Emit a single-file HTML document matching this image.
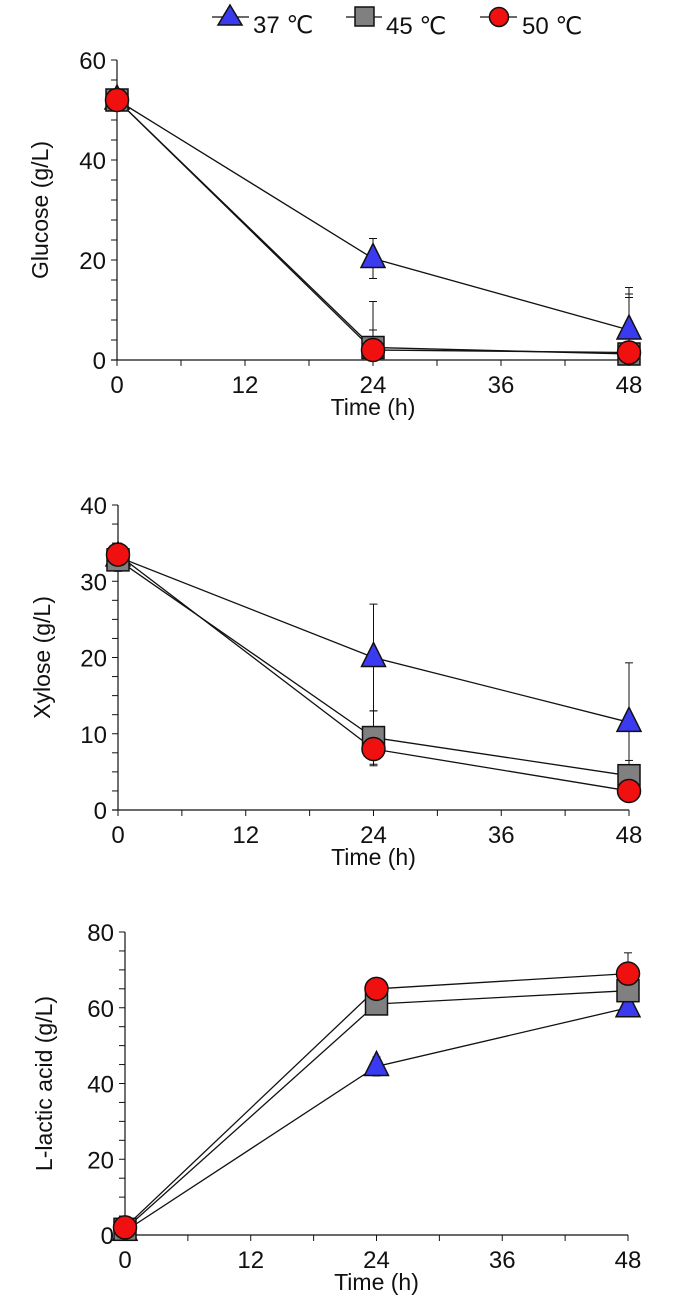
<!DOCTYPE html>
<html><head><meta charset="utf-8"><style>
body{margin:0;background:#fff;}
svg text{font-family:"Liberation Sans",sans-serif;fill:#111;}
svg text.n{font-family:"Liberation Sans Narrow","Liberation Sans",sans-serif;}
</style></head><body>
<svg id="c" width="685" height="1310" viewBox="0 0 685 1310" xmlns="http://www.w3.org/2000/svg">
<g>
 <g><line x1="212" y1="17" x2="249" y2="17" stroke="#111" stroke-width="1.3"/><polygon points="230,5 242,25 218,25" fill="#3a3af0" stroke="#111" stroke-width="1.5"/><text class="n" x="253" y="33" font-size="24">37 ℃</text></g>
 <g><line x1="346" y1="17" x2="382" y2="17" stroke="#111" stroke-width="1.3"/><rect x="355" y="7" width="19" height="19" fill="#808080" stroke="#111" stroke-width="1.5"/><text class="n" x="386" y="34" font-size="24">45 ℃</text></g>
 <g><line x1="480" y1="17" x2="517" y2="17" stroke="#111" stroke-width="1.3"/><circle cx="499" cy="17" r="9.5" fill="#f01010" stroke="#111" stroke-width="1.5"/><text class="n" x="522" y="34" font-size="24">50 ℃</text></g>
</g>
</svg>
<script>
const times=[0,24,48];
const xTicks=[0,12,24,36,48];
const gluc37=[52,20.3,6], gluc45=[52,2.5,1.2], gluc50=[52,2,1.5];
const gluc37e=[1,4,8.5], gluc45e=[1,9.2,12], gluc50e=[1,4,11];
const xyl37=[33.2,20,11.5], xyl45=[32.8,9.5,4.5], xyl50=[33.5,8,2.5];
const xyl37e=[1.5,7,7.8], xyl45e=[1.5,3.5,2], xyl50e=[1.5,2.2,1];
const lac37=[1,44.5,60], lac45=[1.5,61,64.5], lac50=[2,65,69];
const lac37e=[1,2.5,2], lac45e=[1,1.5,1.5], lac50e=[1,1,5.5];
const gTicks=[0,20,40,60], xyTicks=[0,10,20,30,40], lTicks=[0,20,40,60,80];

const svg=document.getElementById('c');
const NS='http://www.w3.org/2000/svg';
function mk(tag,attrs,parent){const e=document.createElementNS(NS,tag);for(const k in attrs)e.setAttribute(k,attrs[k]);parent.appendChild(e);return e;}

const panels=[
 {name:'glucose',title:'Glucose (g/L)',x0:117,x1:629,y0:360,y1:60,ymax:60,minor:4,ticks:gTicks,titleX:40,ser:[[gluc37,gluc37e],[gluc45,gluc45e],[gluc50,gluc50e]]},
 {name:'xylose',title:'Xylose (g/L)',x0:118,x1:629,y0:810,y1:505,ymax:40,minor:2.5,ticks:xyTicks,titleX:42,ser:[[xyl37,xyl37e],[xyl45,xyl45e],[xyl50,xyl50e]]},
 {name:'lactic',title:'L-lactic acid (g/L)',x0:125,x1:628,y0:1235,y1:932,ymax:80,minor:5,ticks:lTicks,titleX:44,ser:[[lac37,lac37e],[lac45,lac45e],[lac50,lac50e]]}
];
const sNames=['37','45','50'];
panels.forEach(p=>{
 const g=mk('g',{},svg);
 
 
 const X=t=>p.x0+(p.x1-p.x0)*t/48;
 const Y=v=>p.y0-(p.y0-p.y1)*v/p.ymax;
 const ax=mk('g',{},g);
 
 
 mk('line',{x1:p.x0,y1:p.y1,x2:p.x0,y2:p.y0,stroke:'#111','stroke-width':1.2},ax);
 mk('line',{x1:p.x0-6,y1:p.y0,x2:p.x1,y2:p.y0,stroke:'#111','stroke-width':1.2},ax);
 for(let v=0;v<=p.ymax+0.01;v+=p.minor){mk('line',{x1:p.x0-6,y1:Y(v),x2:p.x0,y2:Y(v),stroke:'#111','stroke-width':1},ax);}
 for(let t=0;t<=48;t+=6){mk('line',{x1:X(t),y1:p.y0,x2:X(t),y2:p.y0+6,stroke:'#111','stroke-width':1},ax);}
 p.ticks.forEach(v=>{const t=mk('text',{class:'n',x:p.x0-11,y:Y(v)+9,'font-size':24,'text-anchor':'end'},ax);t.textContent=v;
  
  });
 xTicks.forEach(v=>{const t=mk('text',{class:'n',x:X(v),y:p.y0+33,'font-size':24,'text-anchor':'middle'},ax);t.textContent=v;
  
  });
 const xt=mk('text',{class:'n',x:(p.x0+p.x1)/2,y:p.y0+55,'font-size':23,'text-anchor':'middle'},ax);xt.textContent='Time (h)';
 
 
 const yc=(p.y0+p.y1)/2;
 const yt=mk('text',{x:p.titleX,y:yc,'font-size':23,'text-anchor':'middle',transform:`rotate(-90 ${p.titleX} ${yc})`,dy:8},ax);yt.textContent=p.title;
 
 
 p.ser.forEach((s,i)=>{
  const [vals,errs]=s;
  const sg=mk('g',{},g);
  
  
  mk('polyline',{points:vals.map((v,j)=>X(times[j])+','+Y(v)).join(' '),fill:'none',stroke:'#111','stroke-width':1.3},sg);
  vals.forEach((v,j)=>{
   const x=X(times[j]),y=Y(v),ey=Y(v+errs[j]),ey2=Y(Math.max(0,v-errs[j]));
   mk('line',{x1:x,y1:ey,x2:x,y2:ey2,stroke:'#111','stroke-width':1},sg);
   mk('line',{x1:x-4,y1:ey,x2:x+4,y2:ey,stroke:'#111','stroke-width':1},sg);
   mk('line',{x1:x-4,y1:ey2,x2:x+4,y2:ey2,stroke:'#111','stroke-width':1},sg);
  });
 });
 p.ser.forEach((s,i)=>{
  const vals=s[0];
  vals.forEach((v,j)=>{
   const x=X(times[j]),y=Y(v);let m;
   if(i===0)m=mk('polygon',{points:`${x},${y-15} ${x+12},${y+9} ${x-12},${y+9}`,fill:'#3a3af0',stroke:'#111','stroke-width':1.5},g);
   else if(i===1)m=mk('rect',{x:x-11,y:y-11,width:22,height:22,fill:'#808080',stroke:'#111','stroke-width':1.5},g);
   else m=mk('circle',{cx:x,cy:y,r:11.5,fill:'#f01010',stroke:'#111','stroke-width':1.5},g);
   
   
  });
 });
});
</script>
</body></html>
